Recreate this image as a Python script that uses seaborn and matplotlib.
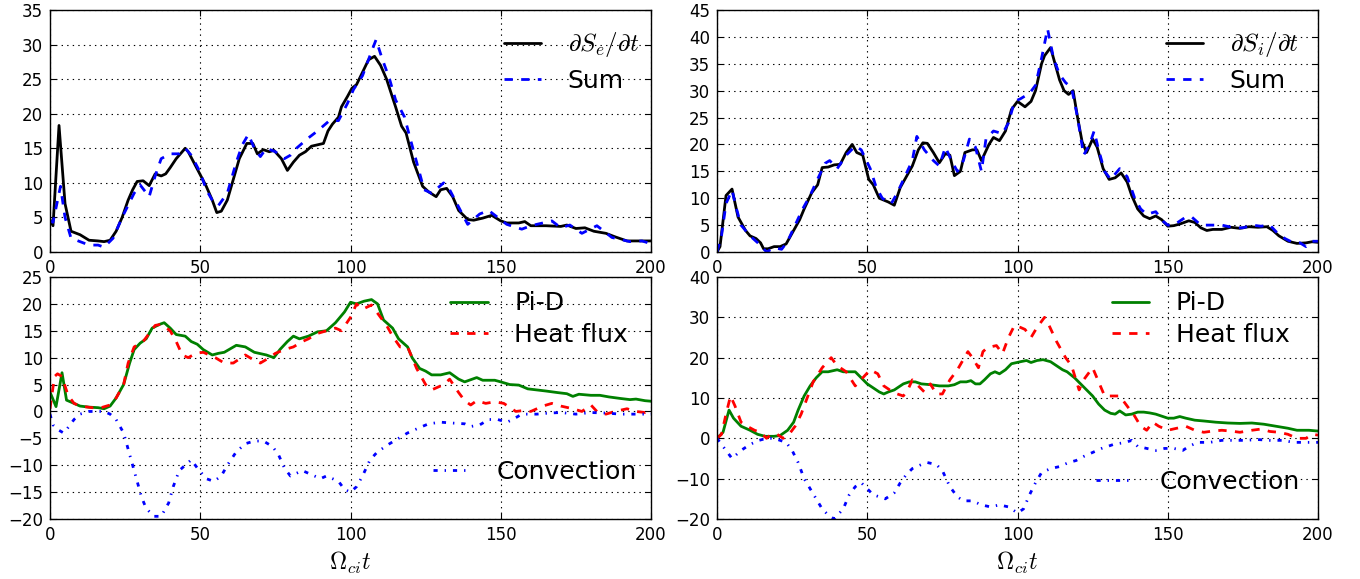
import numpy as np
import pandas as pd
import matplotlib
matplotlib.use("Agg")
import matplotlib.pyplot as plt
import seaborn as sns

# ---------------- data ----------------
t_se = [0,1,3,5,7,10,13,16,18,20,22,24,26,27.5,29,31,33,35,37,38.5,40,42,45,46,49,52,54,55.5,57,59,61,63,65.5,67.5,69,71,73,74.5,77,79,81,83,85,87,89,91,92.5,94,96,97,99,100.5,102,104,106,108,110,112,115,117,118.5,121,124,126,128.5,130,132,134,136,139,141,144,147,150,152,156,158,160,165,170,172,175,178,181,185,188,192,196,200]
se = [4.7,3.8,18.3,7,3,2.5,1.7,1.6,1.5,1.7,3,5,7.5,9,10.2,10.3,9.6,11.3,11,11.3,12.2,13.5,15,14.5,12,9.5,7.5,5.7,5.9,7.5,10.5,13.5,15.7,15.7,14.2,14.8,14.5,14.7,13.5,11.8,13,14,14.5,15.3,15.5,15.7,17.5,18.5,19.5,21,22.5,23.7,24.2,26,27.8,28.3,27,25,21,18.2,17.2,13,9.5,8.7,8,9,9.2,8,6,4.7,4.6,4.9,5.3,4.5,4.2,4.2,4.4,3.8,3.8,3.7,3.9,3.4,3.5,3,2.7,2.2,1.6,1.6,1.6]

t_sum_e = [0,1,3.5,5,7,10,13,16,18,21,24,28,30,33,35,37,40,43,45,47,50,52,54,56,59,62,64,66,68,70,72,75,78,80,82,86,89,93,96,99,101,104,107,108.5,110.5,113,115,118,119.5,122,124.5,127,131,133,136,139,143,146,149,152,157,160,167,170,173,177,182,187,193,197,200]
sum_e = [4.5,4.3,9.5,5,2,1.5,1,1,0.7,2,5,8.5,9.7,8,11,13.5,14.2,14.2,15,14,11.5,9,7.5,6.7,8.5,13,15.5,17,15,13.8,15,14.5,13.5,14,15,16.5,17.5,19,19,21.5,23.5,25.5,29,30.7,28,25,22,19.5,17,13,9,8.5,10,9,6.5,4,5.5,6,5,4,3.3,3.8,4.5,3.5,3.9,2.7,3.8,2.1,1.5,1.6,1.2]

t_si = [0,1,3,5,7,9.5,11,13,14.5,15.5,17,19,21,23,25,27.5,29,31.5,33.5,35,37,39,41,43,45,46.5,48.5,50.5,52,54,57,59,61,63,65,67,68.5,70,72,74,76,77.5,79,81,82.5,85,86.5,88,90.5,92,94,96,98,100,102.5,104.5,106,108,109,111,112.5,114,115.5,117,118.5,120,121.5,123,125,126.5,128.5,130.5,132.5,134.5,136.5,138,140,142,144,146,148,150,152,154,157,159,161,163,165,168,171,174,177,180,183,185,187,190,193,196,198,200]
si = [0,1,10.5,11.7,6.5,4,3,2.5,1.7,0.6,0.6,1,1,1.5,3.5,6,8,11,12.5,15.7,15.8,16.2,16.3,18.5,20,18.5,18,13.5,12.5,10,9.3,8.7,12,14,16,19,20.3,20.2,18.5,16.6,18.3,18,14.2,15,18.5,19,19,17,20,21.3,20.7,22.5,26.5,28,27,28,30,35,36.5,38,35,32,30,29.3,30,25,20.5,18.5,21,19.5,15.5,13.5,13.8,14.7,13,10.5,8,6.7,6.2,6.7,6,4.8,4.9,5.2,5.8,5.5,4.5,4,4.2,4.2,4.6,4.4,4.7,4.6,4.7,4,3,2,1.6,1.7,1.9,1.8]

t_sum_i = [0,1.5,3,5,6.5,8,11,14,16.5,19,21.5,23.5,26,28.5,31,33,36,37.5,40,43,46,48,51,53,55,58,60,62.5,65,66.5,69,72,74,76,78,80,82,84,86,88,89.5,92,95,97,99,101,104,106,108,110,112,114,116,118,120,122,124,125.5,127,129,131,134,136.5,139,141,143,146,148.5,150,152,156,158,161,164,168,172,175,178,181,184,186,189,191.5,194,196,198,200]
sum_i = [0,3,9,11.5,8,5,3,1.5,0,0.8,0.5,2,5,8,10.5,13,16.5,17,15.5,18,19.7,19,15.5,12,10,9,11,14,17,21.5,19,17,16,19.5,17,15,17,21,19.5,15,21,22.5,22,24,28,28.5,29.5,31,36,41.5,36,33,31.5,30.5,25,18,20,22.5,19,15,13.5,15.5,14,10,8,7,7.5,5.7,5,5,6.5,6.5,5,5,5,4.5,4.5,5,4.8,5,3.8,2.5,1.8,1.7,1,2,2]

t_pe = [0,2,4,5.5,8,10,13,16,18,20,22,24.5,26.5,28,30,32,34,36.5,38,40,42,45,47,49,51,54,56,58,62,65,68,72,74.5,76.5,79,81,83,86,89,92,95,98,100,102,104.5,107,109,111,114,116,119,120.5,123,125,127,130,133,136,138,142,144,148,150,153,156,159,162,165,169,172,174,176,180,183,186,190,193,195,198,200]
pe = [3.6,0.9,7.2,2.1,1.5,1,0.8,0.7,0.5,1,2.5,5,9,11.5,12.7,13.5,15.5,16.2,16.5,15.5,14.3,14,13,12.5,11.5,10.5,10.8,11,12.3,12,11,10.5,10,11.5,13,14,13.5,14,14.8,15,16.5,18.5,20.3,20,20.5,20.8,20,17,15.5,13.5,12,10,8,7.5,6.8,6.8,7.2,6,5.5,6.3,5.8,5.8,5.5,5,4.9,4.2,4,3.8,3.5,3.3,2.8,3.2,3,3,2.7,2.4,2.2,2.3,2,1.9]

t_he = [0,1.5,2.5,4,6,8,10,14,17,20,22,24.5,26,28,31,33,35,37,40,42,44,46,48.5,51,53,55,58,61,65,68,70,73,75,78,81,84,86,89,92,95,97,100,102,104,107,110,112,114,116.5,119,122,125,127,131,133,136,138,140,142,145,148,151,155,158,160,164,167,170,174,177,180,182,185,188,192,195,198,200]
he = [0.5,6.5,7,6.5,3,1.5,1,0.7,0.7,1.2,2.5,5,9,12,13,14.5,16,16.2,15,13,10.5,10,10.8,11,10.5,10,9,9,10.5,9.5,9,10,10.8,11.5,12,13,13.5,14.5,15,15.5,15,17.5,20,19,19.8,17.5,16,14,12,12,8,5,4,5,6,3.5,2,1.2,2,1.5,1.8,1.5,0,0.2,0,1,1.5,1,0.5,0,1.2,0,-0.5,0,0.5,0,-0.2,0.2]

t_ce = [0,1,3,4.5,6,8,10,13,16,18,20,22,24.5,26,27.5,29,30.5,32,34.5,37,39.5,41,43,45,47,49,52,54.5,57,59,62,65,68,71,74,76,78,80,82,84,86,88,90,92,96,98,100,102,104,106.5,109,113,116,119,123,126,130,135,138,140,143,146,149,152,154,157,162,166,170,175,180,185,190,195,200]
ce = [-0.5,-2.5,-3.5,-4,-3,-1.5,-0.5,0,0,0,-0.5,-1.5,-4,-7,-10,-13,-16,-18,-19.5,-19.5,-17,-14,-11,-10,-9,-10.5,-12.5,-13,-12,-10,-7.5,-6,-5.5,-5.5,-6.5,-8,-10.5,-12,-11.5,-11,-11.5,-12,-12.5,-12,-13,-14.5,-15,-14,-12,-9,-7.5,-6,-5,-4,-3,-2.3,-2,-2.2,-2.3,-2.8,-2.5,-1.5,-1.5,-2,-1.5,-0.5,-0.5,-0.3,-0.2,-0.5,-0.2,-0.3,-0.5,-0.5,-0.5]

t_pi = [0,2,4,5.5,8,11,13.5,16,19,21,23.5,25.5,27,29,31,33,35,37,40,42,44,46,48,50,52,54,55.5,57,59,62,64,66,68,71,74,77,79,81,83,84.5,86,87.5,89,91,92.5,94,96,98,101,103,104.5,106.5,108.5,111,113,115,116.5,119,121,123,125,127,129,131,132.5,134,136,138,140,142,144,146,148,150,152,154,156,159,162,166,170,174,178,182,186,190,193,197,200]
pi = [0,1.5,7,5,3,2,1,0.5,0.5,0.7,2,4,7,10.5,13,15,16.5,16.5,17,16.5,16.5,16.5,15,13.5,12.5,11.5,11,11.5,12,13.5,14,14,13.5,13.3,13,13,13.3,14,14,14.3,13.5,13.5,14.5,16,16.5,16,17,18.5,19,19.3,18.8,19.3,19.5,19,18,17,16.5,15,13.5,12,10.5,8.5,7,6.2,6,6.8,5.8,6,6.5,6.5,6.3,6,5.5,5,5,5.4,5,4.5,4.3,4,3.8,3.7,3.8,3.5,3,2.5,2,2,1.8]

t_hi = [0,1.5,3,4.5,6,8,10,12.5,14.5,16.5,18,20,22,24,26,28,30,32,35,38,40,43,46,48.5,51,53.5,55.5,57.5,60,62,63.5,65,67,69,71,73,75,77.5,80,83.5,85,87,88.5,90,93,95,97,99,101,102.5,104.5,106.5,109,110.5,113,116,118,120.5,122,125,127,129,131,134,136,139,141,143,145,147,150,153,156,159,162,165,168,171,174,178,181,184,187,190,193,196,198,200]
hi = [0,1,6,10.5,8,4,3,2,1.5,0,1,1,0,1,3,6,10,14,17.5,20,18,16.5,13,15,17,16,13,12,11,10.5,12,14.5,13,11.5,13.5,11,11,14.5,17,21.5,20,17.5,21.5,22.5,23,21,25,28,27.5,27,25,27.5,30,28,24,20,18,12,14.5,17.5,14,10.5,10.5,10.5,8.5,5.5,3,2,4,3,2,2.5,3,2,1.5,1.8,2,1.8,1.5,2,2.3,1.7,1.5,1,0,0,1,0.8]

t_ci = [0,2,4,5,8,11,14,16.5,19,21,23,25,27,29,31,33,35,37,39,42,44,46,48,50,52,54,56,59,61,63,65,68,70,73,75,77.5,80,82,85,88,91,94,97,100,102,104,106,108,111,114,117,119.5,122,125,128,130,132,136,138,140,143,146,149,152,155,157,160,164,168,172,176,180,184,188,192,196,200]
ci = [0,-2,-4,-5,-3,-1.5,-0.5,0,0,-0.5,-1,-3,-6,-10,-12.5,-15,-17.5,-19,-20,-17.5,-14,-12,-11,-12.5,-14,-14.5,-15,-13.5,-11,-9,-7.5,-6.5,-6,-6.5,-8,-12,-14.5,-15.5,-15.5,-16.5,-17,-16.5,-17,-18.5,-17.5,-14,-11,-8.5,-7.5,-7,-6,-5.5,-4.5,-3.5,-2.5,-2,-1.5,-1,-0.5,-2,-2.5,-3,-2.5,-2.5,-3,-2,-1,-1,-0.5,-0.5,-0.5,-0.3,-0.5,-0.5,-1,-1,-1]

labels_top = [r"$\partial S_e/\partial t$", r"$\partial S_i/\partial t$", "Sum"]
labels_bot = ["Pi-D", "Heat flux", "Convection"]
xlabel = r"$\Omega_{ci}t$"

# ---------------- style ----------------
sns.set_style("ticks")
plt.rcParams.update({
    "font.family": ["DejaVu Sans"],
    "mathtext.fontset": "cm",
    "text.color": "black",
    "axes.labelcolor": "black",
    "axes.linewidth": 1.0,
    "axes.edgecolor": "black",
    "xtick.direction": "in",
    "ytick.direction": "in",
    "xtick.top": True,
    "ytick.right": True,
    "xtick.major.size": 4,
    "ytick.major.size": 4,
    "xtick.major.width": 0.8,
    "ytick.major.width": 0.8,
    "xtick.color": "black",
    "ytick.color": "black",
    "xtick.labelcolor": "black",
    "ytick.labelcolor": "black",
    "xtick.labelsize": 12,
    "ytick.labelsize": 12,
    "xtick.major.pad": 5,
    "ytick.major.pad": 5,
    "lines.scale_dashes": False,
    "axes.unicode_minus": True,
})

DASH = (0, (6, 6))
DASHDOT = (0, (3, 5, 1, 5))
LW = 2.0

fig = plt.figure(figsize=(13.6, 5.79), dpi=100)
W, H = 1360.0, 579.0
def add_ax(x0, y0, x1, y1):
    return fig.add_axes([x0 / W, 1 - y1 / H, (x1 - x0) / W, (y1 - y0) / H])

ax_tl = add_ax(50, 10, 651, 252)
ax_tr = add_ax(717, 10, 1318, 252)
ax_bl = add_ax(50, 277, 651, 519)
ax_br = add_ax(717, 277, 1318, 519)

def line(ax, t, v, color, ls):
    sns.lineplot(x=t, y=v, ax=ax, color=color, linestyle=ls, lw=LW,
                 estimator=None, sort=False, legend=False)
    return ax.lines[-1]

def style_ax(ax, ylim, yticks):
    ax.set_xlim(0, 200)
    ax.set_ylim(*ylim)
    ax.set_xticks([0, 50, 100, 150, 200])
    ax.set_yticks(yticks)
    ax.grid(True, color="black", linestyle=(0, (1, 3)), linewidth=0.8)
    ax.set_xlabel("")
    ax.set_ylabel("")
    for s in ax.spines.values():
        s.set_visible(True)
        s.set_linewidth(1.0)
        s.set_color("black")

leg_kw = dict(frameon=False, fontsize=18, handlelength=1.5, handletextpad=1.05,
              borderpad=0, borderaxespad=0)

# top-left
a = line(ax_tl, t_se, se, "black", "-")
b = line(ax_tl, t_sum_e, sum_e, "blue", DASH)
style_ax(ax_tl, (0, 35), range(0, 36, 5))
ax_tl.legend([a, b], [labels_top[0], labels_top[2]], loc="center left",
             bbox_to_anchor=(0.755, 0.787), labelspacing=0.38, **leg_kw)

# top-right
a = line(ax_tr, t_si, si, "black", "-")
b = line(ax_tr, t_sum_i, sum_i, "blue", DASH)
style_ax(ax_tr, (0, 45), range(0, 46, 5))
ax_tr.legend([a, b], [labels_top[1], labels_top[2]], loc="center left",
             bbox_to_anchor=(0.747, 0.787), labelspacing=0.38, **leg_kw)

# bottom-left
a = line(ax_bl, t_pe, pe, "green", "-")
b = line(ax_bl, t_he, he, "red", DASH)
c = line(ax_bl, t_ce, ce, "blue", DASHDOT)
style_ax(ax_bl, (-20, 25), range(-20, 26, 5))
l1 = ax_bl.legend([a, b], labels_bot[:2], loc="center left",
                  bbox_to_anchor=(0.666, 0.826), labelspacing=0.3, **leg_kw)
ax_bl.add_artist(l1)
ax_bl.legend([c], labels_bot[2:], loc="center left",
             bbox_to_anchor=(0.637, 0.194), **leg_kw)

# bottom-right
a = line(ax_br, t_pi, pi, "green", "-")
b = line(ax_br, t_hi, hi, "red", DASH)
c = line(ax_br, t_ci, ci, "blue", DASHDOT)
style_ax(ax_br, (-20, 40), range(-20, 41, 10))
l1 = ax_br.legend([a, b], labels_bot[:2], loc="center left",
                  bbox_to_anchor=(0.657, 0.826), labelspacing=0.3, **leg_kw)
ax_br.add_artist(l1)
ax_br.legend([c], labels_bot[2:], loc="center left",
             bbox_to_anchor=(0.631, 0.153), **leg_kw)

for ax in (ax_bl, ax_br):
    ax.set_xlabel(xlabel, fontsize=17, labelpad=4, color="black")

fig.savefig("out.png", dpi=100)
